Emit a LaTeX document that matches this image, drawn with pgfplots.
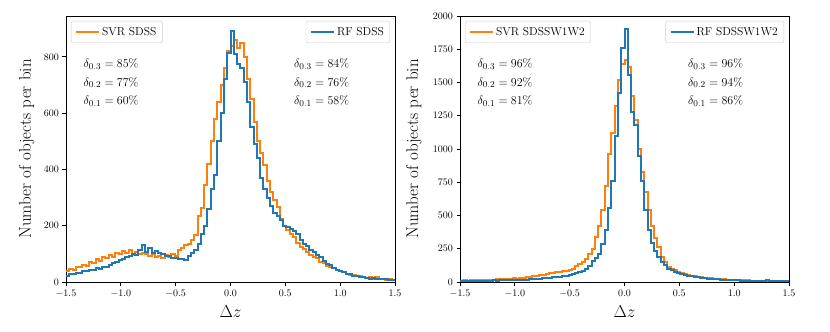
\documentclass[border=0pt]{standalone}
\usepackage{pgfplots}
\pgfplotsset{compat=1.18}
\usepackage{pgfplotstable}
\definecolor{mplblue}{HTML}{1F77B4}
\definecolor{mplorange}{HTML}{FF7F0E}

\pgfplotstableread{
x svr rf
-1.50 40 22
-1.47 46 28
-1.44 44 30
-1.41 52 33
-1.38 55 31
-1.35 62 40
-1.32 58 38
-1.29 70 44
-1.26 66 41
-1.23 80 50
-1.20 76 47
-1.17 88 55
-1.14 84 52
-1.11 95 60
-1.08 90 68
-1.05 104 72
-1.02 98 78
-0.99 110 82
-0.96 102 88
-0.93 112 92
-0.90 96 98
-0.87 108 96
-0.84 100 112
-0.81 104 132
-0.78 98 108
-0.75 94 120
-0.72 100 104
-0.69 88 110
-0.66 94 102
-0.63 86 98
-0.60 96 94
-0.57 88 92
-0.54 100 86
-0.51 94 84
-0.48 112 80
-0.45 120 80
-0.42 130 78
-0.39 136 92
-0.36 150 104
-0.33 168 112
-0.30 235 135
-0.27 262 170
-0.24 345 200
-0.21 420 260
-0.18 502 330
-0.15 580 380
-0.12 640 500
-0.09 700 600
-0.06 760 720
-0.03 820 815
0.00 840 892
0.03 860 810
0.06 830 775
0.09 850 760
0.12 800 710
0.15 720 640
0.18 650 550
0.21 570 490
0.24 500 440
0.27 460 370
0.30 415 330
0.33 360 300
0.36 320 270
0.39 290 245
0.42 265 235
0.45 225 220
0.48 200 200
0.51 185 195
0.54 170 190
0.57 160 180
0.60 140 170
0.63 125 150
0.66 118 135
0.69 108 128
0.72 95 112
0.75 90 108
0.78 84 96
0.81 72 90
0.84 66 75
0.87 58 64
0.90 52 60
0.93 50 50
0.96 44 44
0.99 40 40
1.02 34 34
1.05 30 30
1.08 24 28
1.11 26 22
1.14 20 20
1.17 22 19
1.20 18 16
1.23 14 14
1.26 16 12
1.29 12 14
1.32 16 11
1.35 10 10
1.38 12 9
1.41 8 10
1.44 9 8
1.47 8 7
1.50 8 7
}\leftdata

\pgfplotstableread{
x svr rf
-1.50 10 8
-1.47 12 6
-1.44 10 8
-1.41 14 7
-1.38 12 9
-1.35 15 8
-1.32 13 10
-1.29 16 9
-1.26 15 11
-1.23 18 10
-1.20 17 12
-1.17 20 11
-1.14 19 13
-1.11 22 12
-1.08 24 14
-1.05 23 13
-1.02 28 14
-0.99 25 15
-0.96 30 16
-0.93 32 18
-0.90 36 18
-0.87 40 20
-0.84 44 22
-0.81 48 23
-0.78 52 26
-0.75 56 28
-0.72 60 30
-0.69 64 32
-0.66 68 34
-0.63 73 35
-0.60 78 40
-0.57 82 44
-0.54 86 48
-0.51 92 53
-0.48 100 58
-0.45 118 66
-0.42 136 73
-0.39 150 85
-0.36 175 98
-0.33 210 120
-0.30 250 160
-0.27 340 180
-0.24 420 210
-0.21 540 286
-0.18 720 390
-0.15 960 560
-0.12 1120 760
-0.09 1320 1100
-0.06 1520 1420
-0.03 1640 1760
0.00 1666 1905
0.03 1620 1560
0.06 1400 1280
0.09 1220 1180
0.12 1000 950
0.15 830 760
0.18 680 540
0.21 540 390
0.24 420 290
0.27 330 230
0.30 260 190
0.33 190 150
0.36 150 125
0.39 115 100
0.42 100 88
0.45 88 75
0.48 76 66
0.51 68 58
0.54 60 52
0.57 52 46
0.60 46 42
0.63 42 38
0.66 38 34
0.69 35 30
0.72 32 28
0.75 30 26
0.78 28 24
0.81 25 22
0.84 23 20
0.87 22 18
0.90 20 16
0.93 18 14
0.96 17 13
0.99 15 12
1.02 14 12
1.05 13 11
1.08 12 10
1.11 12 9
1.14 11 10
1.17 10 9
1.20 10 8
1.23 9 9
1.26 9 8
1.29 8 14
1.32 8 7
1.35 8 8
1.38 7 7
1.41 7 6
1.44 6 7
1.47 6 6
1.50 6 6
}\rightdata

\tikzset{dtext/.style={anchor=west, font=\fontsize{13}{15}\selectfont}}
\pgfplotsset{
  base/.style={
    width=329pt, height=266pt, scale only axis,
    xmin=-1.5, xmax=1.5, ymin=0,
    axis line style={line width=0.8pt},
    tick align=outside, major tick length=3.5pt,
    every tick/.style={black, line width=0.8pt},
    xtick pos=bottom, ytick pos=left,
    xtick={-1.5,-1,-0.5,0,0.5,1,1.5},
    ticklabel style={font=\fontsize{10}{12}\selectfont},
    xticklabel style={yshift=-1pt, /pgf/number format/.cd, fixed, fixed zerofill, precision=1},
    yticklabel style={/pgf/number format/.cd, fixed, precision=0, 1000 sep={}},
    scaled ticks=false,
    legend style={draw=black!20, rounded corners=2pt, fill=white, fill opacity=0.8, text opacity=1,
      font=\fontsize{11.5}{13}\selectfont, inner xsep=4pt, inner ysep=4pt, cells={anchor=west}},
    legend image code/.code={\draw[#1, line width=2pt] (0pt,0pt) -- (23pt,0pt);},
    xlabel={$\Delta z$},
    xlabel style={font=\fontsize{17}{20}\selectfont, at={(axis description cs:0.5,-0.11)}, anchor=center},
    ylabel={Number of objects per bin},
    ylabel style={font=\fontsize{17}{20}\selectfont, anchor=center},
  },
  leg nw/.style={legend style={at={(0,1)}, anchor=north west, xshift=5pt, yshift=-5pt}},
  leg ne/.style={legend style={at={(1,1)}, anchor=north east, xshift=-5pt, yshift=-5pt}},
  over/.style={hide axis},
}

\begin{document}
\begin{tikzpicture}
\path[use as bounding box] (-66pt,-50pt) rectangle (764pt,282pt);
% left panel
\begin{axis}[base, leg nw, ymax=945, ytick={0,200,400,600,800},
  ylabel style={at={(axis description cs:-0.12,0.5)}}]
\addplot[const plot, draw=mplorange, line width=2pt] table[x=x, y=svr] {\leftdata};
\addlegendentry{SVR SDSS}
\node[dtext] at (rel axis cs:0.043,0.82) {$\delta_{0.3} = 85\%$};
\node[dtext] at (rel axis cs:0.043,0.75) {$\delta_{0.2} = 77\%$};
\node[dtext] at (rel axis cs:0.043,0.68) {$\delta_{0.1} = 60\%$};
\node[dtext] at (rel axis cs:0.683,0.82) {$\delta_{0.3} = 84\%$};
\node[dtext] at (rel axis cs:0.683,0.75) {$\delta_{0.2} = 76\%$};
\node[dtext] at (rel axis cs:0.683,0.68) {$\delta_{0.1} = 58\%$};
\end{axis}
\begin{axis}[base, over, leg ne, ymax=945]
\addplot[const plot, draw=mplblue, line width=2pt] table[x=x, y=rf] {\leftdata};
\addlegendentry{RF SDSS}
\end{axis}
% right panel
\begin{axis}[base, at={(394pt,0pt)}, leg nw, ymax=2000, ytick={0,250,500,750,1000,1250,1500,1750,2000},
  ylabel style={at={(axis description cs:-0.14,0.5)}}]
\addplot[const plot, draw=mplorange, line width=2pt] table[x=x, y=svr] {\rightdata};
\addlegendentry{SVR SDSSW1W2}
\node[dtext] at (rel axis cs:0.043,0.82) {$\delta_{0.3} = 96\%$};
\node[dtext] at (rel axis cs:0.043,0.75) {$\delta_{0.2} = 92\%$};
\node[dtext] at (rel axis cs:0.043,0.68) {$\delta_{0.1} = 81\%$};
\node[dtext] at (rel axis cs:0.683,0.82) {$\delta_{0.3} = 96\%$};
\node[dtext] at (rel axis cs:0.683,0.75) {$\delta_{0.2} = 94\%$};
\node[dtext] at (rel axis cs:0.683,0.68) {$\delta_{0.1} = 86\%$};
\end{axis}
\begin{axis}[base, over, at={(394pt,0pt)}, leg ne, ymax=2000]
\addplot[const plot, draw=mplblue, line width=2pt] table[x=x, y=rf] {\rightdata};
\addlegendentry{RF SDSSW1W2}
\end{axis}
\end{tikzpicture}
\end{document}
